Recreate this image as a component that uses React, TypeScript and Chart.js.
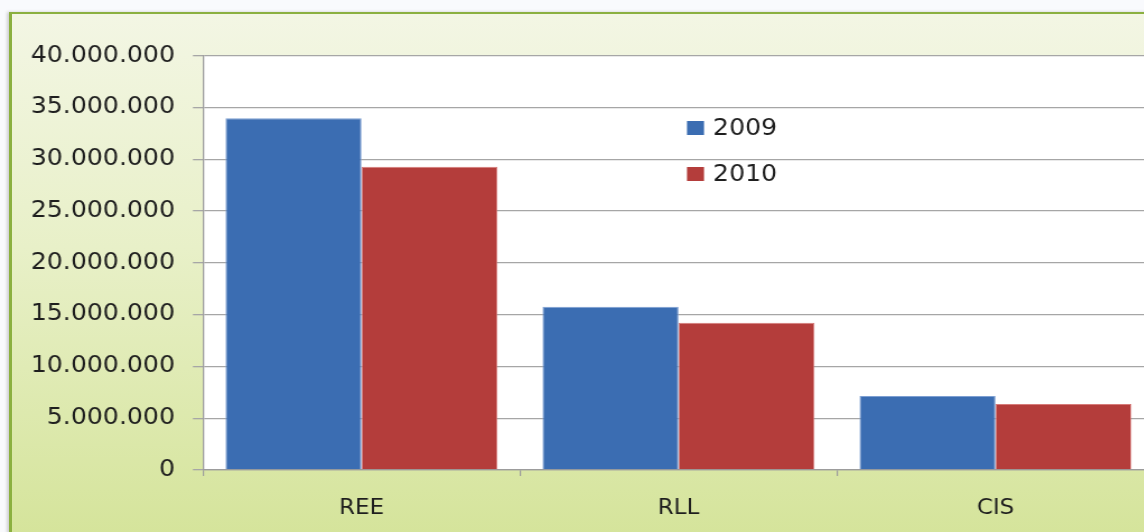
import React, { useEffect, useRef } from "react";
import { Chart, registerables } from "chart.js";

Chart.register(...registerables);

const categories = ["REE", "RLL", "CIS"];
const seriesLabels = ["2009", "2010"];
const values2009 = [33960000, 15770000, 7140000];
const values2010 = [29280000, 14220000, 6370000];
const seriesColors = ["#3b6db2", "#b43d3b"];
const seriesBorders = ["#7d9fd2", "#d77b79"];
const yMin = 0;
const yMax = 40000000;
const yStep = 5000000;

const S = 1.12; // horizontal stretch of the original picture
const CW = 1040;
const CH = 532;
const FONT = "'DejaVu Sans', Verdana, sans-serif";

function fmt(v: number): string {
  return String(Math.round(v)).replace(/\B(?=(\d{3})+(?!\d))/g, ".");
}

const plotBg = {
  id: "plotBg",
  beforeDraw(chart: any) {
    const { ctx, chartArea } = chart;
    ctx.save();
    ctx.fillStyle = "#ffffff";
    ctx.fillRect(chartArea.left, chartArea.top, chartArea.right - chartArea.left, chartArea.bottom - chartArea.top);
    ctx.restore();
  },
};

const innerLegend = {
  id: "innerLegend",
  afterDraw(chart: any) {
    const { ctx } = chart;
    const x = 687 / S;
    const tx = 713 / S;
    const rows = [128, 174];
    ctx.save();
    ctx.font = `22.5px ${FONT}`;
    ctx.textBaseline = "middle";
    ctx.textAlign = "left";
    chart.data.datasets.forEach((ds: any, i: number) => {
      const cy = rows[i];
      ctx.fillStyle = ds.backgroundColor;
      ctx.fillRect(x, cy - 7, 17 / S, 14);
      ctx.fillStyle = "#1e1e1e";
      ctx.fillText(ds.label, tx, cy + 1);
    });
    ctx.restore();
  },
};

export default function App() {
  const ref = useRef<HTMLCanvasElement | null>(null);

  useEffect(() => {
    if (!ref.current) return;
    const chart = new Chart(ref.current, {
      type: "bar",
      data: {
        labels: categories,
        datasets: [
          {
            label: seriesLabels[0],
            data: values2009,
            backgroundColor: seriesColors[0],
            borderColor: seriesBorders[0],
            borderWidth: 1,
            categoryPercentage: 0.858,
            barPercentage: 1,
          },
          {
            label: seriesLabels[1],
            data: values2010,
            backgroundColor: seriesColors[1],
            borderColor: seriesBorders[1],
            borderWidth: 1,
            categoryPercentage: 0.858,
            barPercentage: 1,
          },
        ],
      },
      options: {
        responsive: false,
        animation: false,
        layout: { padding: { top: 55.7, left: 0, right: CW - 1154 / S, bottom: 0 } },
        plugins: {
          legend: { display: false },
          tooltip: { enabled: false },
        },
        scales: {
          x: {
            grid: {
              offset: true,
              drawOnChartArea: false,
              drawTicks: true,
              tickLength: 6,
              color: "#9c9c9c",
              lineWidth: 1.2,
            },
            border: { display: true, color: "#9c9c9c", width: 1.3 },
            ticks: {
              padding: 20,
              color: "#1e1e1e",
              font: { family: FONT, size: 20.5 },
            },
            afterFit: (scale: any) => {
              scale.height = CH - 470;
            },
          },
          y: {
            min: yMin,
            max: yMax,
            grid: {
              color: "#a6a6a6",
              lineWidth: 1.3,
              tickLength: 9,
            },
            border: { display: true, color: "#9c9c9c", width: 1.3 },
            ticks: {
              stepSize: yStep,
              padding: 16,
              color: "#1e1e1e",
              font: { family: FONT, size: 22.5 },
              callback: (v: any) => fmt(Number(v)),
            },
            afterFit: (scale: any) => {
              scale.width = 203 / S;
            },
          },
        },
      },
      plugins: [plotBg, innerLegend],
    });
    return () => chart.destroy();
  }, []);

  return (
    <div
      style={{
        position: "fixed",
        left: 0,
        top: 0,
        width: 1144,
        height: 532,
        overflow: "hidden",
        background: "#f9fafd",
      }}
    >
      <div
        style={{
          position: "absolute",
          left: 9,
          top: 12,
          width: 1200,
          height: 522,
          boxSizing: "border-box",
          borderLeft: "3px solid #8bb040",
          borderTop: "2px solid #8bb040",
          background: "linear-gradient(180deg, #f3f6e4 0%, #e8f0c8 45%, #d5e49b 100%)",
          boxShadow: "-2px 0 3px rgba(0,0,0,0.18)",
        }}
      />
      <div
        style={{
          position: "absolute",
          left: 0,
          top: 0,
          width: CW,
          height: CH,
          transform: `scaleX(${S})`,
          transformOrigin: "0 0",
        }}
      >
        <canvas ref={ref} width={CW} height={CH} style={{ display: "block" }} />
      </div>
    </div>
  );
}
